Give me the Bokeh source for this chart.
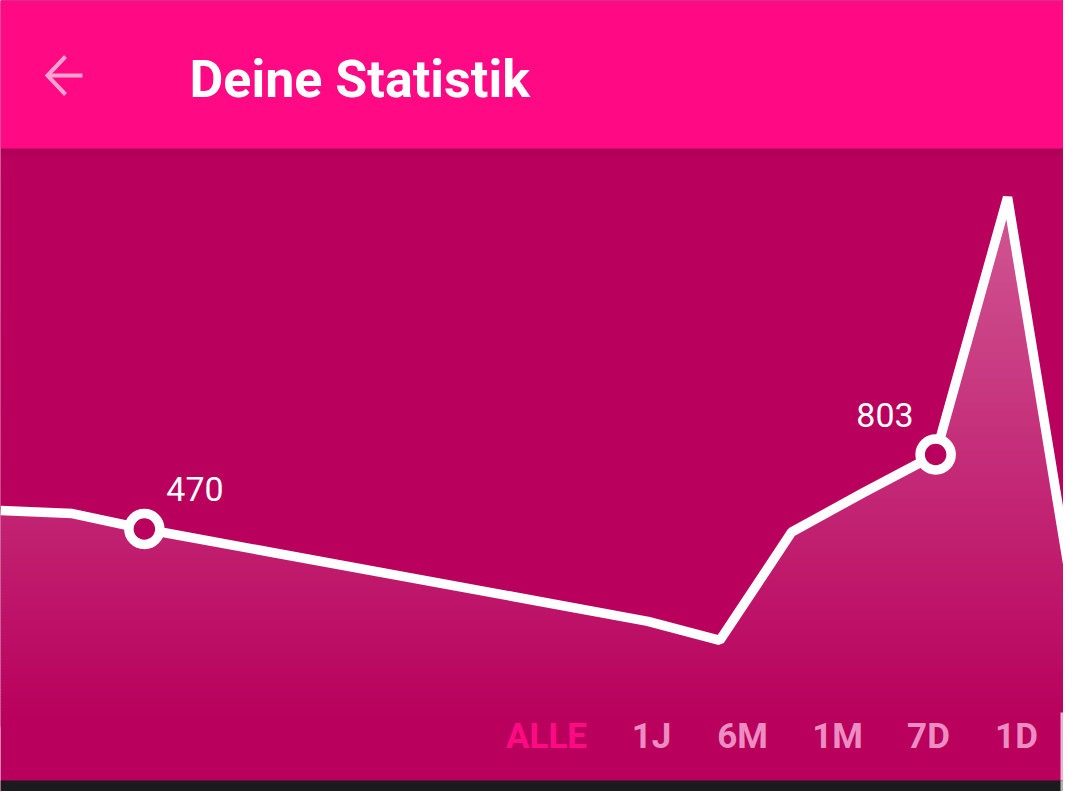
import math
from bokeh.plotting import figure
from bokeh.models import Range1d, LinearScale
from bokeh.core.properties import value
from bokeh.embed import file_html
from bokeh.resources import INLINE

# ---------------- data ----------------
day = [0, 1, 2, 9, 10, 11, 12, 13, 14, 15]
count = [537, 525, 470, 242, 211, 460, 611, 803, 5100, 218]
marked_day = [2, 13]
marked_count = [470, 803]
range_labels = ["ALLE", "1J", "6M", "1M", "7D", "1D"]
title_text = "Deine Statistik"

# ---------------- layout / style ----------------
W, H = 1063, 791
OFF = 0
REF_W = 1079
px_per_day = REF_W / 15
y_at_470, y_at_803 = 528.5, 454.0          # screen anchors of the log scale
k = (y_at_470 - y_at_803) / (math.log(803) - math.log(470))
v_top = 470 * math.exp((y_at_470 - OFF) / k)
v_bot = 470 * math.exp((y_at_470 - (OFF + H)) / k)

BG = (184, 0, 92)
BG_HEX = "#%02x%02x%02x" % BG
HEADER = "#FF0A84"
FONT = value("Roboto")

p = figure(width=W, height=H, output_backend="svg", toolbar_location=None,
           x_range=Range1d(OFF / px_per_day, (OFF + W) / px_per_day),
           y_range=Range1d(v_bot, v_top), y_axis_type="log",
           x_axis_location=None, y_axis_location=None, min_border=0,
           background_fill_color=BG_HEX, border_fill_color=BG_HEX,
           outline_line_color=None)
p.grid.visible = False
p.extra_x_ranges = {"px": Range1d(OFF, OFF + W)}
p.extra_y_ranges = {"px": Range1d(OFF + H, OFF)}
p.extra_y_scales = {"px": LinearScale()}
PX = dict(x_range_name="px", y_range_name="px")

# gradient under the line (drawn as stripes, then covered above the line)
g_top, g_bot, step = 150, 726, 3
tops, bots, cols = [], [], []
for y in range(g_top, g_bot, step):
    a = max(0.0, min(0.37, 0.34 * (725 - y) / (725 - 200)))
    c = tuple(int(round(b + a * (255 - b))) for b in BG)
    tops.append(y)
    bots.append(y + step + 1)
    cols.append("#%02x%02x%02x" % c)
p.quad(left=0, right=REF_W, top=tops, bottom=bots, fill_color=cols,
       line_color=None, **PX)

# cover above the line with background
p.varea(x=day, y1=count, y2=v_top * 3, fill_color=BG_HEX)

# the line
p.line(day, count, line_color="white", line_width=9.5, line_join="bevel")

# marked points
p.scatter(marked_day, marked_count, size=31, line_width=9.5,
          line_color="white", fill_color=BG_HEX)
for d, c, xo, yo, al in zip(marked_day, marked_count, [22, -22], [-40, -40],
                            ["left", "right"]):
    p.text(x=[d], y=[c], text=[str(c)], x_offset=xo, y_offset=yo,
           text_align=al, text_baseline="alphabetic", text_color="white",
           text_font=FONT, text_font_size="34px")

# header shadow
for i in range(8):
    p.quad(left=0, right=REF_W, top=148 + i, bottom=149 + i,
           fill_color="black", fill_alpha=0.07 * (8 - i) / 8, line_color=None, **PX)

# header
p.quad(left=0, right=REF_W, top=0, bottom=148, fill_color=HEADER,
       line_color=None, **PX)
p.multi_line(xs=[[47, 82], [65, 47, 65]], ys=[[75, 75], [56, 75, 94]],
             line_color="#FFA3D1", line_width=4, line_join="miter", **PX)
p.text(x=[189], y=[79], text=[title_text], text_color="white",
       text_font=FONT, text_font_style="bold", text_font_size="52px",
       text_baseline="alphabetic", **PX)

# range selector
label_x = [546, 651, 742, 837, 928, 1016]
label_col = [HEADER] + ["#EC8CC2"] * (len(range_labels) - 1)
p.text(x=label_x, y=[736] * len(range_labels), text=range_labels,
       text_color=label_col, text_font=FONT, text_font_style="bold",
       text_font_size="35px", text_align="center", text_baseline="alphabetic", **PX)

# bottom bar and edge widget
p.quad(left=0, right=REF_W, top=780, bottom=810, fill_color="#1B1B1D",
       line_color=None, **PX)
p.quad(left=1060, right=1090, top=712, bottom=780, fill_color="#ECB4D4",
       line_color=None, **PX)
p.quad(left=1060, right=1090, top=780, bottom=810, fill_color="#B2B2B2",
       line_color=None, **PX)

open("out.html", "w").write(file_html(p, INLINE))
